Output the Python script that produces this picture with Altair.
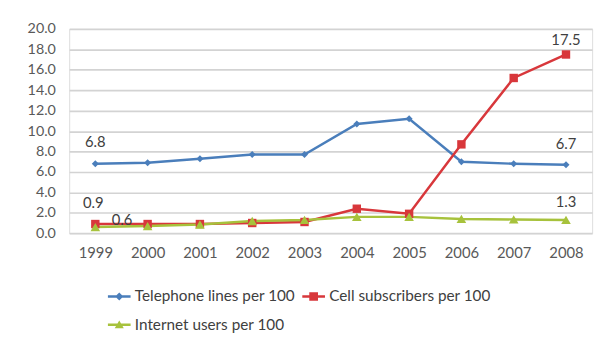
import altair as alt
import pandas as pd

years = ["1999", "2000", "2001", "2002", "2003", "2004", "2005", "2006", "2007", "2008"]
telephone = [6.8, 6.9, 7.3, 7.7, 7.7, 10.7, 11.2, 7.0, 6.8, 6.7]
cell = [0.9, 0.9, 0.9, 1.0, 1.1, 2.4, 1.9, 8.7, 15.2, 17.5]
internet = [0.6, 0.7, 0.85, 1.2, 1.3, 1.6, 1.6, 1.4, 1.35, 1.3]
series_names = ["Telephone lines per 100", "Cell subscribers per 100", "Internet users per 100"]
series_values = [telephone, cell, internet]
colors = ["#4a7ebb", "#d8373b", "#a7c23c"]
y_ticks = [0, 2, 4, 6, 8, 10, 12, 14, 16, 18, 20]

rows = []
for name, vals in zip(series_names, series_values):
    for yr, v in zip(years, vals):
        rows.append({"year": yr, "value": v, "series": name})
df = pd.DataFrame(rows)

FONT = "Lato"
color_scale = alt.Scale(domain=series_names, range=colors)

x_enc = alt.X("year:O", scale=alt.Scale(type="point", padding=0.5), title=None,
              axis=alt.Axis(labelAngle=0, ticks=False, domain=False, grid=False,
                            labelPadding=13, labelFontSize=15, labelColor="#595959", labelFont=FONT))
y_enc = alt.Y("value:Q", scale=alt.Scale(domain=[0, 20], nice=False), title=None,
              axis=alt.Axis(values=y_ticks, format=".1f", ticks=False, domain=False,
                            labelOverlap=False, tickCount=11,
                            gridColor="#d3d3d3", gridWidth=1.7, labelPadding=14,
                            labelFontSize=14.5, labelColor="#595959", labelFont=FONT))

base = alt.Chart(df)
lines = base.mark_line(strokeWidth=2.5).encode(
    x=x_enc, y=y_enc,
    color=alt.Color("series:N", scale=color_scale, legend=None),
)
points = base.mark_point(filled=True, opacity=1).encode(
    x=x_enc, y=y_enc,
    color=alt.Color("series:N", scale=color_scale, legend=None),
    shape=alt.Shape("series:N", scale=alt.Scale(domain=series_names, range=["diamond", "square", "triangle-up"]), legend=None),
    size=alt.Size("series:N", scale=alt.Scale(domain=series_names, range=[50, 95, 60]), legend=None),
)

legend_paths = [
    "M-3.25,-0.35H3.25V0.35H-3.25Z M0,-1.15L1.15,0L0,1.15L-1.15,0Z",
    "M-3.25,-0.35H3.25V0.35H-3.25Z M-1.25,-1.25H1.25V1.25H-1.25Z",
    "M-3.25,-0.35H3.25V0.35H-3.25Z M0,-1.25L1.3,1.0L-1.3,1.0Z",
]
leg = alt.Legend(title=None, orient="none", legendX=43, legendY=263,
                 direction="horizontal", columns=2, columnPadding=6,
                 rowPadding=12, symbolSize=50, labelOffset=8,
                 symbolStrokeWidth=0, labelFontSize=15.5, labelFont=FONT,
                 labelColor="#404040", padding=0, labelLimit=300)
legend_layer = base.mark_point(filled=True, opacity=1).encode(
    x=x_enc, y=y_enc,
    color=alt.Color("series:N", scale=alt.Scale(domain=series_names, range=colors), legend=leg),
    shape=alt.Shape("series:N", scale=alt.Scale(domain=series_names, range=legend_paths), legend=leg),
).transform_filter("false")


def label(series_idx, year_idx, dx, dy):
    d = pd.DataFrame({"year": [years[year_idx]], "value": [series_values[series_idx][year_idx]]})
    return alt.Chart(d).mark_text(dx=dx, dy=dy, fontSize=15, font=FONT, color="#404040").encode(
        x=x_enc, y=y_enc, text=alt.Text("value:Q", format=".1f"))


labels = [
    label(0, 0, 0, -22),
    label(0, 9, 0, -21),
    label(1, 0, -2, -21),
    label(1, 9, 0, -15),
    label(2, 0, 27, -7),
    label(2, 9, 0, -18),
]

chart = alt.layer(lines, points, legend_layer, *labels).resolve_scale(
    shape="independent", color="independent"
).properties(
    width=530, height=207,
    autosize=alt.AutoSizeParams(type="none"),
    padding={"left": 62, "top": 19, "right": 11, "bottom": 108},
).configure_view(stroke=None).configure(background="white")

chart.save("out.html", embed_options={"renderer": "svg", "actions": False})
